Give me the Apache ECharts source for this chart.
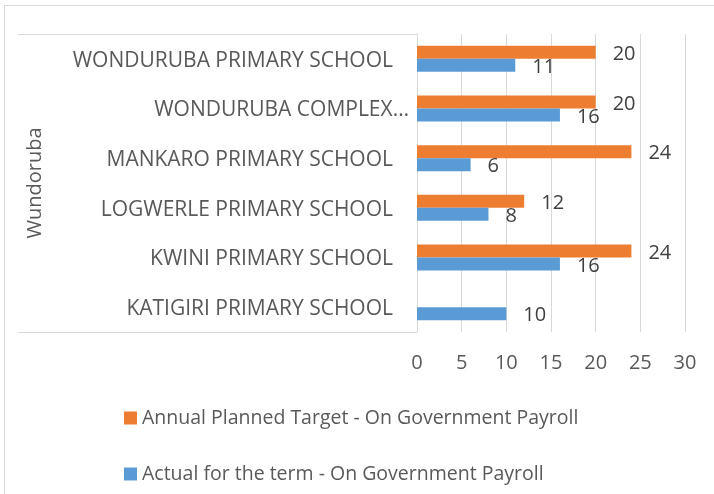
<!DOCTYPE html>
<html>
<head>
<meta charset="utf-8">
<script src="https://cdn.jsdelivr.net/npm/echarts@6/dist/echarts.min.js"></script>
<style>
html,body{margin:0;padding:0;background:#fff;}
#chart{width:714px;height:494px;}
</style>
</head>
<body>
<div id="chart"></div>
<script>
const categories = [
  'KATIGIRI PRIMARY SCHOOL',
  'KWINI PRIMARY SCHOOL',
  'LOGWERLE PRIMARY SCHOOL',
  'MANKARO PRIMARY SCHOOL',
  'WONDURUBA COMPLEX\u2026',
  'WONDURUBA PRIMARY SCHOOL'
];
const groupLabel = 'Wundoruba';
const plannedName = 'Annual Planned Target - On Government Payroll';
const actualName = 'Actual for the term - On Government Payroll';
const plannedValues = [null, 24, 12, 24, 20, 20];
const actualValues = [10, 16, 8, 6, 16, 11];
const xTicks = [0, 5, 10, 15, 20, 25, 30];

const FONT = '"Open Sans", sans-serif';
const chart = echarts.init(document.getElementById('chart'), null, {renderer: 'canvas'});
const labelStyle = {
  show: true, position: 'right', distance: 17, offset: [0, 2],
  fontFamily: FONT, fontSize: 20, color: '#404040'
};
chart.setOption({
  animation: false,
  backgroundColor: '#fff',
  grid: {left: 417, right: 29, top: 34, bottom: 162, containLabel: false},
  xAxis: {
    type: 'value', min: xTicks[0], max: xTicks[xTicks.length - 1], interval: 5,
    axisLine: {show: false}, axisTick: {show: false},
    splitLine: {lineStyle: {color: '#d9d9d9', width: 1}},
    axisLabel: {fontFamily: FONT, fontSize: 20, color: '#595959', margin: 21}
  },
  yAxis: {
    type: 'category', data: categories,
    name: groupLabel, nameLocation: 'middle', nameRotate: 90, nameGap: 372,
    nameTextStyle: {fontFamily: FONT, fontSize: 20, color: '#595959'},
    axisLine: {show: true, lineStyle: {color: '#d9d9d9', width: 1}},
    axisTick: {show: false},
    axisLabel: {
      margin: 8,
      formatter: function (v) {
        return v.indexOf('\u2026') >= 0 ? '{b|' + v + '}' : '{a|' + v + '}';
      },
      rich: {
        a: {fontFamily: FONT, fontSize: 21, color: '#595959', padding: [4, 16, 0, 0]},
        b: {fontFamily: FONT, fontSize: 21, color: '#595959', padding: [4, 0, 0, 0]}
      }
    }
  },
  legend: {
    orient: 'vertical', left: 119, top: 402,
    itemWidth: 13, itemHeight: 13, itemGap: 34, icon: 'rect',
    data: [plannedName, actualName],
    textStyle: {fontFamily: FONT, fontSize: 19.5, color: '#595959', lineHeight: 22}
  },
  graphic: [
    {type: 'rect', silent: true, shape: {x: 4.5, y: 5.5, width: 800, height: 600},
     style: {fill: 'none', stroke: '#d9d9d9', lineWidth: 1}},
    {type: 'line', silent: true, shape: {x1: 18, y1: 34.5, x2: 417, y2: 34.5},
     style: {stroke: '#d9d9d9', lineWidth: 1}},
    {type: 'line', silent: true, shape: {x1: 18, y1: 332.5, x2: 417, y2: 332.5},
     style: {stroke: '#d9d9d9', lineWidth: 1}}
  ],
  series: [
    {name: plannedName, type: 'bar', data: plannedValues, barWidth: 13, barGap: '0%',
     itemStyle: {color: '#ED7D31'}, label: labelStyle},
    {name: actualName, type: 'bar', data: actualValues, barWidth: 13, barGap: '0%',
     itemStyle: {color: '#5B9BD5'}, label: labelStyle}
  ]
});
</script>
</body>
</html>
